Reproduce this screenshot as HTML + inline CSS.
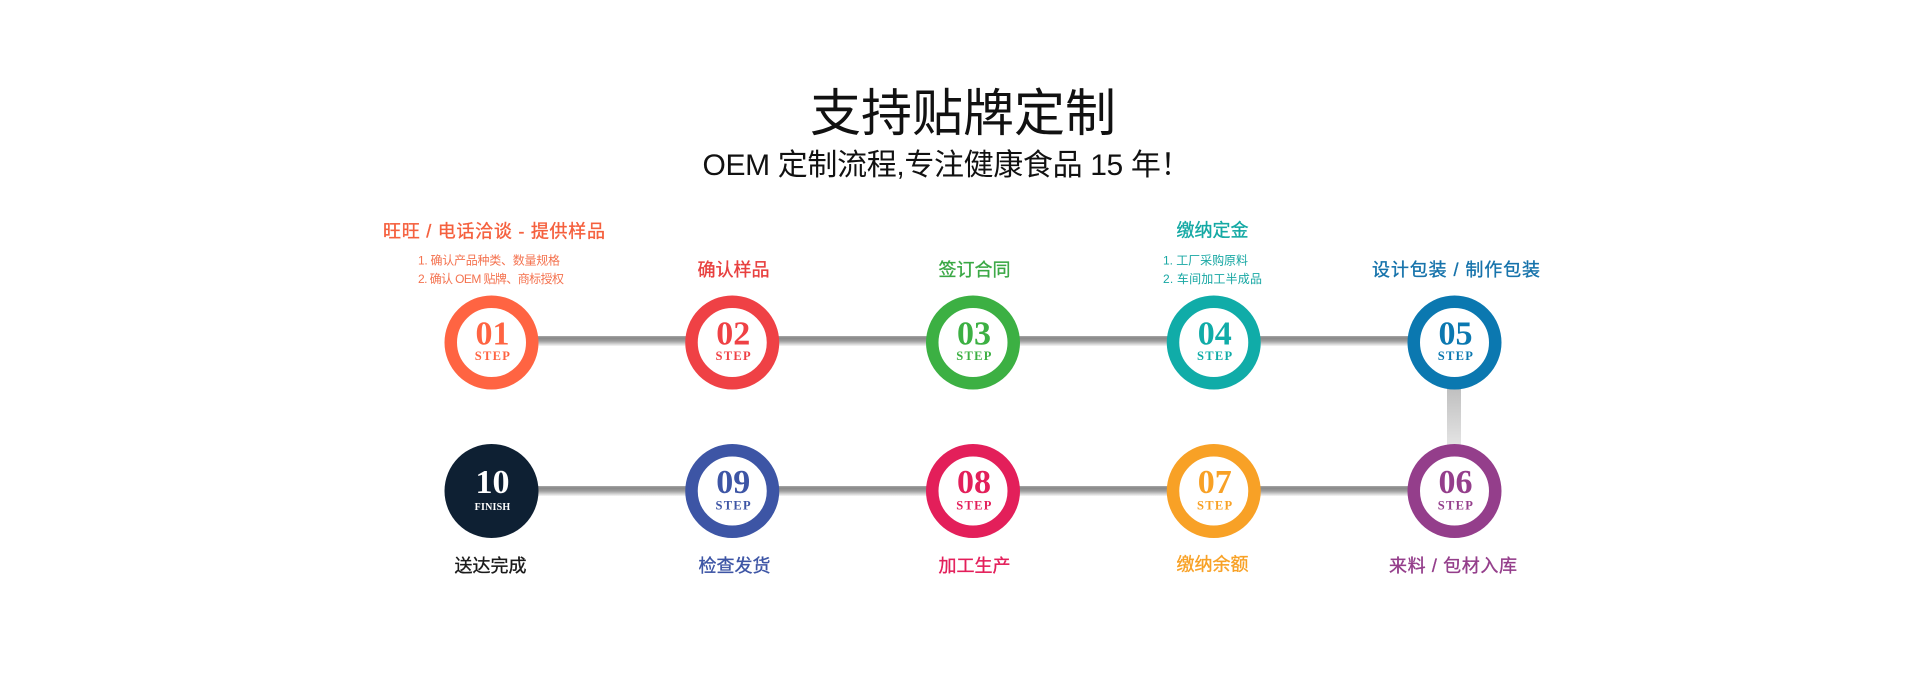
<!DOCTYPE html>
<html>
<head>
<meta charset="utf-8">
<style>
html,body{margin:0;padding:0;background:#fff;}
body{width:1920px;height:675px;overflow:hidden;}
svg{display:block;}
.cjk{font-family:"Liberation Sans","Noto Sans CJK SC",sans-serif;}
.num{font-family:"Liberation Serif",serif;font-weight:bold;}
</style>
</head>
<body>
<svg width="1920" height="675" viewBox="0 0 1920 675" xmlns="http://www.w3.org/2000/svg">
<defs>
<linearGradient id="hl" x1="0" y1="0" x2="0" y2="1">
<stop offset="0" stop-color="#a8a8a8"/>
<stop offset="0.2" stop-color="#888888"/>
<stop offset="0.5" stop-color="#9e9e9e"/>
<stop offset="1" stop-color="#f6f6f6"/>
</linearGradient>
<linearGradient id="vl" x1="0" y1="0" x2="0" y2="1">
<stop offset="0" stop-color="#bababa"/>
<stop offset="1" stop-color="#e8e8e8"/>
</linearGradient>
</defs>
<rect width="1920" height="675" fill="#ffffff"/>

<!-- Title -->
<text class="cjk" x="963" y="131" font-size="51" font-weight="400" fill="#111" text-anchor="middle" textLength="306" lengthAdjust="spacing">支持贴牌定制</text>
<text class="cjk" x="946.5" y="175" font-size="30" fill="#111" text-anchor="middle" textLength="488" lengthAdjust="spacing">OEM 定制流程,专注健康食品 15 年！</text>

<!-- connectors -->
<rect x="491.5" y="336" width="963" height="10" fill="url(#hl)"/>
<rect x="491.5" y="486" width="963" height="10" fill="url(#hl)"/>
<rect x="1447" y="380" width="14" height="72" fill="url(#vl)"/>

<!-- Row 1 circles -->
<g>
<circle cx="491.5" cy="342.5" r="40.75" fill="#fff" stroke="#ff6442" stroke-width="12.5"/>
<text class="num" x="492.5" y="344.5" font-size="34" fill="#ff6442" text-anchor="middle">01</text>
<text class="num" x="493" y="360" font-size="12.5" letter-spacing="1.3" fill="#ff6442" text-anchor="middle">STEP</text>

<circle cx="732.25" cy="342.5" r="40.75" fill="#fff" stroke="#ef4145" stroke-width="12.5"/>
<text class="num" x="733.25" y="344.5" font-size="34" fill="#ef4145" text-anchor="middle">02</text>
<text class="num" x="733.75" y="360" font-size="12.5" letter-spacing="1.3" fill="#ef4145" text-anchor="middle">STEP</text>

<circle cx="973" cy="342.5" r="40.75" fill="#fff" stroke="#3cb043" stroke-width="12.5"/>
<text class="num" x="974" y="344.5" font-size="34" fill="#3cb043" text-anchor="middle">03</text>
<text class="num" x="974.5" y="360" font-size="12.5" letter-spacing="1.3" fill="#3cb043" text-anchor="middle">STEP</text>

<circle cx="1213.75" cy="342.5" r="40.75" fill="#fff" stroke="#10aca8" stroke-width="12.5"/>
<text class="num" x="1214.75" y="344.5" font-size="34" fill="#10aca8" text-anchor="middle">04</text>
<text class="num" x="1215.25" y="360" font-size="12.5" letter-spacing="1.3" fill="#10aca8" text-anchor="middle">STEP</text>

<circle cx="1454.5" cy="342.5" r="40.75" fill="#fff" stroke="#0b78b0" stroke-width="12.5"/>
<text class="num" x="1455.5" y="344.5" font-size="34" fill="#0b78b0" text-anchor="middle">05</text>
<text class="num" x="1456" y="360" font-size="12.5" letter-spacing="1.3" fill="#0b78b0" text-anchor="middle">STEP</text>
</g>

<!-- Row 2 circles -->
<g>
<circle cx="491.5" cy="491" r="47" fill="#0e2033"/>
<text class="num" x="492.5" y="493" font-size="34" fill="#ffffff" text-anchor="middle">10</text>
<text class="num" x="492.5" y="510" font-size="10" letter-spacing="0.2" fill="#ffffff" text-anchor="middle">FINISH</text>

<circle cx="732.25" cy="491" r="40.75" fill="#fff" stroke="#3d55a5" stroke-width="12.5"/>
<text class="num" x="733.25" y="493" font-size="34" fill="#3d55a5" text-anchor="middle">09</text>
<text class="num" x="733.75" y="509.5" font-size="12.5" letter-spacing="1.3" fill="#3d55a5" text-anchor="middle">STEP</text>

<circle cx="973" cy="491" r="40.75" fill="#fff" stroke="#e31f5a" stroke-width="12.5"/>
<text class="num" x="974" y="493" font-size="34" fill="#e31f5a" text-anchor="middle">08</text>
<text class="num" x="974.5" y="509.5" font-size="12.5" letter-spacing="1.3" fill="#e31f5a" text-anchor="middle">STEP</text>

<circle cx="1213.75" cy="491" r="40.75" fill="#fff" stroke="#f8a126" stroke-width="12.5"/>
<text class="num" x="1214.75" y="493" font-size="34" fill="#f8a126" text-anchor="middle">07</text>
<text class="num" x="1215.25" y="509.5" font-size="12.5" letter-spacing="1.3" fill="#f8a126" text-anchor="middle">STEP</text>

<circle cx="1454.5" cy="491" r="40.75" fill="#fff" stroke="#943e8b" stroke-width="12.5"/>
<text class="num" x="1455.5" y="493" font-size="34" fill="#943e8b" text-anchor="middle">06</text>
<text class="num" x="1456" y="509.5" font-size="12.5" letter-spacing="1.3" fill="#943e8b" text-anchor="middle">STEP</text>
</g>

<!-- Row 1 labels -->
<g class="cjk" font-size="18" stroke-width="0.35">
<text x="494" y="237.5" fill="#f5603e" stroke="#f5603e" text-anchor="middle" textLength="222" lengthAdjust="spacing">旺旺 / 电话洽谈 - 提供样品</text>
<text x="733.5" y="276" fill="#e8403f" stroke="#e8403f" text-anchor="middle">确认样品</text>
<text x="974.5" y="276" fill="#3aa845" stroke="#3aa845" text-anchor="middle">签订合同</text>
<text x="1212.5" y="236.5" fill="#14a9a4" stroke="#14a9a4" text-anchor="middle">缴纳定金</text>
<text x="1456" y="276" fill="#1673ab" stroke="#1673ab" text-anchor="middle" textLength="168" lengthAdjust="spacing">设计包装 / 制作包装</text>
</g>
<g class="cjk" font-size="12">
<text x="418" y="264.5" fill="#f4724f" textLength="142" lengthAdjust="spacing">1. 确认产品种类、数量规格</text>
<text x="418" y="283" fill="#f4724f" textLength="146" lengthAdjust="spacing">2. 确认 OEM 贴牌、商标授权</text>
<text x="1163" y="264.5" fill="#17a7a3" textLength="85" lengthAdjust="spacing">1. 工厂采购原料</text>
<text x="1163" y="283" fill="#17a7a3" textLength="99" lengthAdjust="spacing">2. 车间加工半成品</text>
</g>

<!-- Row 2 labels -->
<g class="cjk" font-size="18" stroke-width="0.35">
<text x="490.5" y="572" fill="#1a1a1a" stroke="#1a1a1a" text-anchor="middle">送达完成</text>
<text x="734.5" y="572" fill="#3d55a5" stroke="#3d55a5" text-anchor="middle">检查发货</text>
<text x="974.5" y="572" fill="#e31f5a" stroke="#e31f5a" text-anchor="middle">加工生产</text>
<text x="1212.5" y="570.5" fill="#f8a126" stroke="#f8a126" text-anchor="middle">缴纳余额</text>
<text x="1453" y="572" fill="#943e8b" stroke="#943e8b" text-anchor="middle" textLength="128" lengthAdjust="spacing">来料 / 包材入库</text>
</g>
</svg>
</body>
</html>
